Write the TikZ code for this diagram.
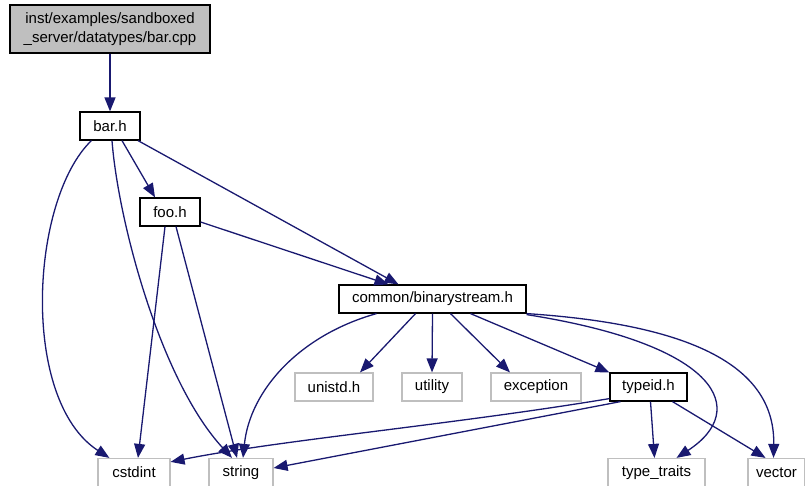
\documentclass[tikz,border=0pt]{standalone}
\usepackage{fontspec}
\setmainfont{Liberation Sans}
\usetikzlibrary{arrows.meta}
\definecolor{edgeblue}{RGB}{25,25,112}
\definecolor{sysgray}{RGB}{191,191,191}

\begin{document}
\begin{tikzpicture}[x=1pt, y=-1pt,
		file/.style={draw=black, line width=1.2pt, fill=white, inner sep=0pt, minimum height=28pt,
			font=\fontsize{15}{19}\selectfont},
		root/.style={file, fill=sysgray, align=center, minimum height=48pt},
		sys/.style={file, draw=sysgray},
		dep/.style={draw=edgeblue, line width=1.3pt, -{Triangle[length=14pt, width=11pt]}}]
		\useasboundingbox (0,0) rectangle (805,486);

		\node[root, minimum width=200pt] (cpp) at (110,29) {inst/examples/sandboxed\\\_server/datatypes/bar.cpp};
		\node[file, minimum width=60pt] (barh) at (110,126) {bar.h};
		\node[file, minimum width=60pt] (fooh) at (170,212) {foo.h};
		\node[file, minimum width=187pt] (binstream) at (432.5,299) {common/binarystream.h};
		\node[sys, minimum width=78pt] (unistd) at (334,387) {unistd.h};
		\node[sys, minimum width=60pt] (utility) at (432,387) {utility};
		\node[sys, minimum width=90pt] (exception) at (536,387) {exception};
		\node[file, minimum width=77pt] (typeid) at (648.5,387) {typeid.h};
		\node[sys, minimum width=72pt] (cstdint) at (134,472.5) {cstdint};
		\node[sys, minimum width=64pt] (string) at (241,472.5) {string};
		\node[sys, minimum width=97pt] (typetraits) at (656.5,472.5) {type\_traits};
		\node[sys, minimum width=57pt] (vector) at (776.5,472.5) {vector};

		\draw[dep] (cpp) -- (barh);
		\draw[dep] ([xshift=12pt]barh.south west) .. controls (30,200) and (20,400) .. ([xshift=12pt]cstdint.north west);
		\draw[dep] ([xshift=2pt]barh.south) .. controls (118,220) and (160,380) .. ([xshift=-9pt]string.north);
		\draw[dep] ([xshift=12pt]barh.south) -- ([xshift=-15pt]fooh.north);
		\draw[dep] ([xshift=28pt]barh.south) -- ([xshift=-34pt]binstream.north);
		\draw[dep] ([xshift=-5pt]fooh.south) -- ([xshift=4pt]cstdint.north);
		\draw[dep] ([xshift=6pt]fooh.south) -- ([xshift=-4pt]string.north);
		\draw[dep] ([yshift=-10pt]fooh.east) -- ([xshift=-44pt]binstream.north);
		\draw[dep] ([xshift=-56pt]binstream.south) .. controls (300,335) and (250,390) .. ([xshift=2pt]string.north);
		\draw[dep] ([xshift=-17pt]binstream.south) -- ([xshift=26pt]unistd.north);
		\draw[dep] (binstream.south) -- (utility.north);
		\draw[dep] ([xshift=18pt]binstream.south) -- ([xshift=-26pt]exception.north);
		\draw[dep] ([xshift=38pt]binstream.south) -- (typeid.north west);
		\draw[dep] ([yshift=-1pt]binstream.south east) .. controls (720,345) and (750,410) .. ([xshift=20pt]typetraits.north);
		\draw[dep] (binstream.south east) .. controls (700,325) and (775,370) .. ([xshift=-3pt]vector.north);
		\draw[dep] ([yshift=3pt]typeid.south west) .. controls (450,425) and (280,440) .. ([yshift=-4pt]cstdint.north east);
		\draw[dep] ([xshift=-28pt]typeid.south) -- ([yshift=4.5pt]string.east);
		\draw[dep] ([xshift=2pt]typeid.south) -- ([xshift=-2pt]typetraits.north);
		\draw[dep] ([xshift=24pt]typeid.south) -- ([xshift=-11pt]vector.north);
	\end{tikzpicture}
\end{document}
